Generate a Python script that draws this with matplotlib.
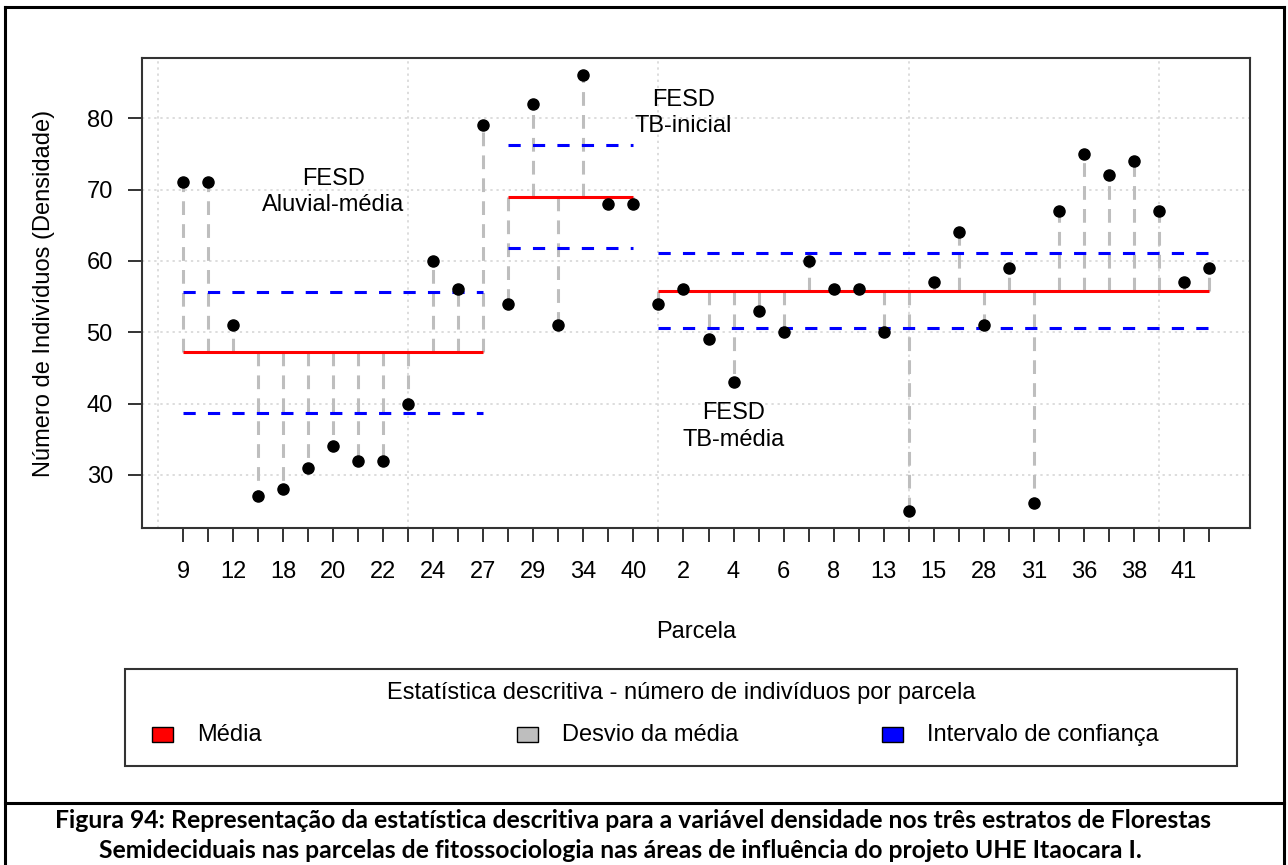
import matplotlib.pyplot as plt
from matplotlib.patches import Rectangle
from matplotlib.lines import Line2D
import numpy as np

plt.rcParams['font.family'] = ['Liberation Sans', 'DejaVu Sans']

# DATA: número de indivíduos por parcela, três estratos
densidade_aluvial = [71, 71, 51, 27, 28, 31, 34, 32, 32, 40, 60, 56, 79]
densidade_tb_inicial = [54, 82, 51, 86, 68, 68]
densidade_tb_media = [54, 56, 49, 43, 53, 50, 60, 56, 56, 50, 25, 57, 64, 51,
                      59, 26, 67, 75, 72, 74, 67, 57, 59]

# média e intervalo de confiança
medias = [47.3, 69.0, 55.8]
ic_inf = [38.7, 61.8, 50.6]
ic_sup = [55.7, 76.2, 61.1]

# R só mostra os rótulos que cabem (um sim, um não)
parcelas = ['9', '', '12', '', '18', '', '20', '', '22', '', '24', '', '27', '',
            '29', '', '34', '', '40', '',
            '2', '', '4', '', '6', '', '8', '', '13', '', '15', '', '28', '',
            '31', '', '36', '', '38', '', '41', '']

estratos = ['FESD\nAluvial-média', 'FESD\nTB-inicial', 'FESD\nTB-média']
rotulo_pos = [(7, 69.7), (21, 80.7), (23, 36.8)]

legenda_titulo = 'Estatística descritiva - número de indivíduos por parcela'
legenda_itens = ['Média', 'Desvio da média', 'Intervalo de confiança']
legenda_cores = ['#FF0000', '#BEBEBE', '#0000FF']

legenda_fig = ('Figura 94: Representação da estatística descritiva para a variável densidade nos três estratos de Florestas',
               'Semideciduais nas parcelas de fitossociologia nas áreas de influência do projeto UHE Itaocara I.')

W, H = 1288, 865
def fx(p):
    return p / W
def fy(p):
    return 1 - p / H

fig = plt.figure(figsize=(W / 100, H / 100), dpi=100)
ax = fig.add_axes([fx(142), fy(528), 1108 / W, 470 / H])

grupos = [densidade_aluvial, densidade_tb_inicial, densidade_tb_media]
n_total = sum(len(g) for g in grupos)
ax.set_xlim(1 - 0.04 * (n_total - 1), n_total + 0.04 * (n_total - 1))
ax.set_ylim(22.56, 88.44)

# grade pontilhada
for gx in [0, 10, 20, 30, 40]:
    ax.axvline(gx, color='#D3D3D3', lw=1.1, ls=(0, (1.5, 2.5)), zorder=0)
for gy in [30, 40, 50, 60, 70, 80]:
    ax.axhline(gy, color='#D3D3D3', lw=1.1, ls=(0, (1.5, 2.5)), zorder=0)

inicio = 1
for g, m, lo, hi in zip(grupos, medias, ic_inf, ic_sup):
    xs = np.arange(inicio, inicio + len(g))
    ax.vlines(xs, m, g, color='#BEBEBE', lw=2.2, linestyles=[(0, (4.5, 3))], zorder=2)
    ax.hlines(m, xs[0], xs[-1], color='#FF0000', lw=2.2, zorder=3)
    ax.hlines([lo, hi], xs[0], xs[-1], color='#0000FF', lw=2.2,
              linestyles=[(0, (4, 4))], zorder=3)
    ax.plot(xs, g, 'o', color='black', ms=8, zorder=4)
    inicio += len(g)

for txt, (tx, ty) in zip(estratos, rotulo_pos):
    ax.text(tx, ty, txt, ha='center', va='center', fontsize=17, linespacing=1.25)

ax.set_xticks(np.arange(1, n_total + 1))
ax.set_xticklabels(parcelas)
ax.set_yticks([30, 40, 50, 60, 70, 80])
ax.tick_params(axis='both', length=10, width=1.4, color='#333333', labelsize=17)
ax.tick_params(axis='x', pad=14)
ax.tick_params(axis='y', pad=11)
for s in ax.spines.values():
    s.set_linewidth(1.5)
    s.set_color('#333333')

fig.text(fx(696), fy(632), 'Parcela', ha='center', va='center', fontsize=17)
fig.text(fx(44), fy(293), 'Número de Indivíduos (Densidade)', ha='center', va='center',
         rotation=90, fontsize=17)

# legenda desenhada à moda do R
fig.add_artist(Rectangle((fx(125), fy(766)), 1112 / W, 97 / H, transform=fig.transFigure,
                         fill=False, ec='#333333', lw=1.5))
fig.text(fx(681), fy(693), legenda_titulo, ha='center', va='center', fontsize=17)
for i, (lab, cor) in enumerate(zip(legenda_itens, legenda_cores)):
    x0 = 152 + i * 365
    fig.add_artist(Rectangle((fx(x0), fy(742)), 21 / W, 15 / H, transform=fig.transFigure,
                             fc=cor, ec='black', lw=1.0))
    fig.text(fx(x0 + 45), fy(735), lab, ha='left', va='center', fontsize=17)

# moldura da figura
borda = dict(color='black', lw=2.2, transform=fig.transFigure)
fig.add_artist(Line2D([fx(5), fx(1284)], [fy(7), fy(7)], **borda))
fig.add_artist(Line2D([fx(5), fx(5)], [fy(7), 0], **borda))
fig.add_artist(Line2D([fx(1284), fx(1284)], [fy(7), 0], **borda))
fig.add_artist(Line2D([fx(5), fx(1284)], [fy(803), fy(803)], **borda))

fig.text(fx(633), fy(820), legenda_fig[0], ha='center', va='center', fontsize=17.8,
         fontweight='bold', family=['Lato', 'DejaVu Sans'])
fig.text(fx(620), fy(851), legenda_fig[1], ha='center', va='center', fontsize=17.8,
         fontweight='bold', family=['Lato', 'DejaVu Sans'])

fig.savefig('out.png', dpi=100)
